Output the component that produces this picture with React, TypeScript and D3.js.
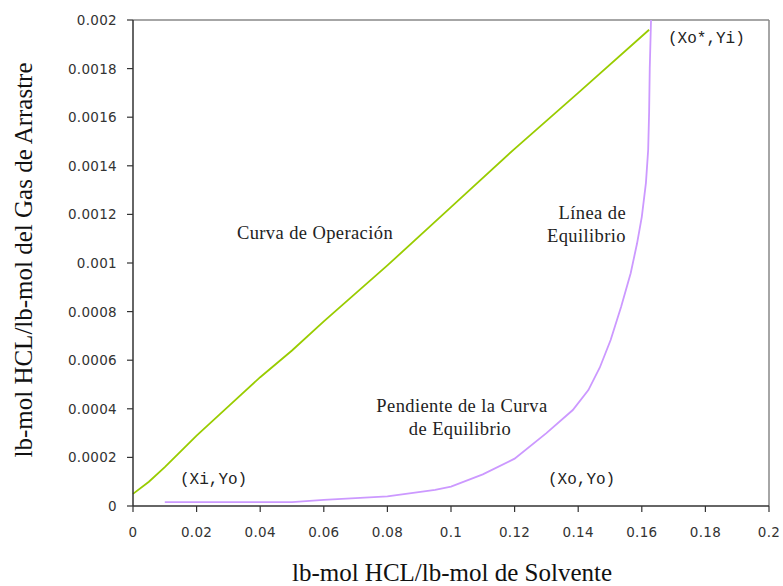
import React from 'react';
import * as d3 from 'd3';

// operating line (Curva de Operación)
const opX = [0, 0.005, 0.01, 0.02, 0.03, 0.04, 0.05, 0.06, 0.08, 0.1, 0.12, 0.14, 0.1623];
const opY = [0.00005, 0.0001, 0.00016, 0.00029, 0.00041, 0.00053, 0.00064, 0.00076, 0.00099, 0.00123, 0.00147, 0.0017, 0.00196];

// equilibrium line (Línea de Equilibrio)
const eqX = [0.01, 0.03, 0.05, 0.06, 0.08, 0.095, 0.1, 0.11, 0.12, 0.13, 0.1383, 0.1432, 0.1468, 0.1502, 0.1535, 0.1565, 0.1585, 0.16, 0.1613, 0.162, 0.1623, 0.1625, 0.1629];
const eqY = [0.000016, 0.000016, 0.000016, 0.000025, 0.00004, 0.000066, 0.00008, 0.00013, 0.000195, 0.0003, 0.000395, 0.000477, 0.00057, 0.000683, 0.00082, 0.000958, 0.00108, 0.00119, 0.00133, 0.001465, 0.00162, 0.0018, 0.002];

const xTicks = [0, 0.02, 0.04, 0.06, 0.08, 0.1, 0.12, 0.14, 0.16, 0.18, 0.2];
const xTickLabels = ['0', '0.02', '0.04', '0.06', '0.08', '0.1', '0.12', '0.14', '0.16', '0.18', '0.2'];
const yTicks = [0, 0.0002, 0.0004, 0.0006, 0.0008, 0.001, 0.0012, 0.0014, 0.0016, 0.0018, 0.002];
const yTickLabels = ['0', '0.0002', '0.0004', '0.0006', '0.0008', '0.001', '0.0012', '0.0014', '0.0016', '0.0018', '0.002'];

const W = 783;
const H = 586;
const left = 133, right = 769, top = 20, bottom = 506;

export default function App() {
  const x = d3.scaleLinear().domain([0, 0.2]).range([left, right]);
  const y = d3.scaleLinear().domain([0, 0.002]).range([bottom, top]);

  const line = d3.line<[number, number]>().x(d => x(d[0])).y(d => y(d[1]));
  const opPath = line(opX.map((v, i) => [v, opY[i]]) as [number, number][]) || '';
  const eqPath = line(eqX.map((v, i) => [v, eqY[i]]) as [number, number][]) || '';

  const tickFont = { fontFamily: 'DejaVu Sans', fontSize: 13.5, fill: '#333', letterSpacing: 0.3 } as const;
  const serif = { fontFamily: 'Liberation Serif', fontSize: 18.5, fill: '#222', letterSpacing: 0.4 } as const;
  const mono = { fontFamily: 'Liberation Mono', fontSize: 16, fill: '#222' } as const;

  return (
    <svg width={W} height={H} style={{ position: 'absolute', left: 0, top: 0, background: '#fff' }}>
      <rect x={0} y={0} width={W} height={H} fill="#fff" />
      {/* top and right border */}
      <line x1={left} y1={top} x2={right} y2={top} stroke="#888" strokeWidth={1.5} />
      <line x1={right} y1={top} x2={right} y2={bottom} stroke="#888" strokeWidth={1.5} />

      <path d={opPath} fill="none" stroke="#99cc00" strokeWidth={1.8} />
      <path d={eqPath} fill="none" stroke="#cc99ff" strokeWidth={1.8} />

      {/* axes */}
      <line x1={left} y1={top} x2={left} y2={bottom} stroke="#333" strokeWidth={1.5} />
      <line x1={left} y1={bottom} x2={right} y2={bottom} stroke="#333" strokeWidth={1.5} />
      {yTicks.map((t, i) => (
        <g key={'y' + i}>
          <line x1={left - 6} x2={left} y1={y(t)} y2={y(t)} stroke="#333" strokeWidth={1.2} />
          <text x={117} y={y(t) + 5} textAnchor="end" {...tickFont}>{yTickLabels[i]}</text>
        </g>
      ))}
      {xTicks.map((t, i) => (
        <g key={'x' + i}>
          <line x1={x(t)} x2={x(t)} y1={bottom} y2={bottom + 6} stroke="#333" strokeWidth={1.2} />
          <text x={x(t)} y={537} textAnchor="middle" {...tickFont}>{xTickLabels[i]}</text>
        </g>
      ))}

      {/* annotations */}
      <text x={315} y={239} textAnchor="middle" {...serif}>Curva de Operación</text>
      <text x={626} y={219} textAnchor="end" {...serif}>Línea de</text>
      <text x={626} y={242} textAnchor="end" {...serif}>Equilibrio</text>
      <text x={462} y={412} textAnchor="middle" {...serif}>Pendiente de la Curva</text>
      <text x={460} y={435} textAnchor="middle" {...serif}>de Equilibrio</text>
      <text x={668} y={43} {...mono}>(Xo*,Yi)</text>
      <text x={180} y={484} {...mono}>(Xi,Yo)</text>
      <text x={548} y={484} {...mono}>(Xo,Yo)</text>

      {/* axis titles */}
      <text x={452} y={581} textAnchor="middle" fontFamily="Liberation Serif" fontSize={25} fill="#111">lb-mol HCL/lb-mol de Solvente</text>
      <text transform="translate(32,260) rotate(-90)" textAnchor="middle" fontFamily="Liberation Serif" fontSize={25} fill="#111">lb-mol HCL/lb-mol del Gas de Arrastre</text>
    </svg>
  );
}
